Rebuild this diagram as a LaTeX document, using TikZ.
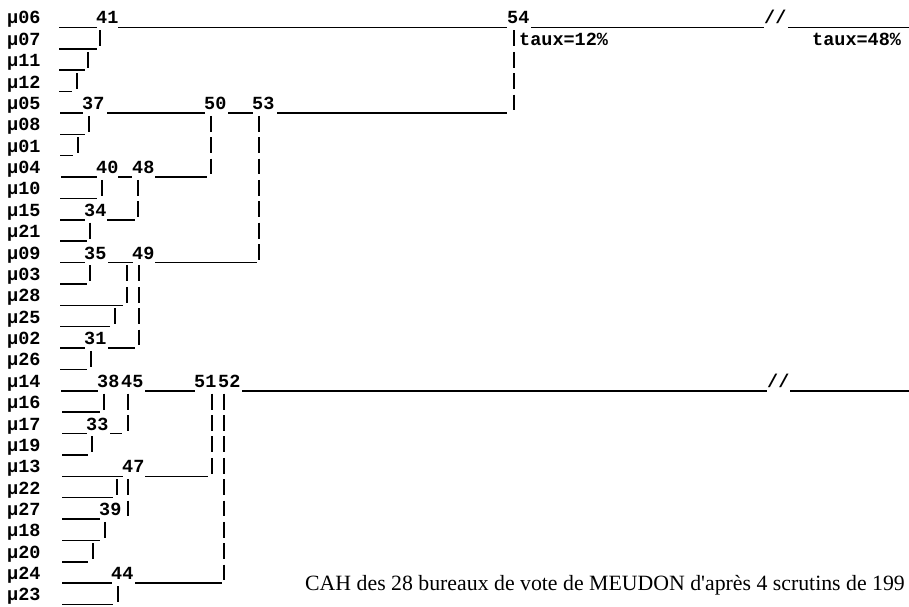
\documentclass[tikz,border=0pt]{standalone}
\usepackage{fontspec}
\setmainfont{Liberation Serif}[Ligatures=TeXOff]
\setmonofont{Liberation Mono}
\tikzset{
  leaflbl/.style={anchor=base west, inner sep=0pt, font=\ttfamily\bfseries\fontsize{18.5}{20}\selectfont},
  numlbl/.style={anchor=base west, inner sep=0pt, font=\ttfamily\bfseries\fontsize{18.5}{20}\selectfont},
  hline/.style={line width=1.5pt},
  vbar/.style={line width=1.5pt}
}

\begin{document}
\begin{tikzpicture}[x=1pt, y=-21.37pt]
  \useasboundingbox (0,-0.8423) rectangle (909,27.516);

  % Leaves
  \foreach \lbl [count=\r from 0] in {06,07,11,12,05,08,01,04,10,15,21,09,03,28,
                                      25,02,26,14,16,17,19,13,22,27,18,20,24,23}
    \node[leaflbl] (l\lbl) at (7,\r+0.28) {μ\lbl};

  % Horizontal rules (x from, x to, row)
  \foreach \xa/\xb/\r in {59/97/0, 118/507/0, 531/764/0, 788/909/0,
                          59/97/1, 59/85/2, 59/72/3,
                          60/83/4, 107/205/4, 228/253/4, 277/507/4,
                          60/85/5, 60/73/6,
                          61/97/7, 118/132/7, 155/207/7,
                          60/97/8, 60/85/9, 107/135/9, 60/87/10,
                          60/85/11, 108/133/11, 155/257/11,
                          60/87/12, 60/123/13, 60/110/14,
                          60/85/15, 108/135/15, 60/87/16,
                          61/98/17, 145/195/17, 242/767/17, 790/909/17,
                          62/100/18, 62/87/19, 110/122/19, 62/88/20,
                          62/123/21, 145/208/21, 62/113/22, 62/100/23,
                          62/100/24, 62/88/25, 62/112/26, 135/222/26,
                          62/113/27}
    \draw[hline] (\xa,\r+0.445) -- (\xb,\r+0.445);

  % Vertical bars (x, first row, last row)
  \foreach \x/\ra/\rb in {100/1/1, 88/2/2, 77/3/3, 514/1/4,
                          89/5/5, 78/6/6, 211/5/7, 259/5/11,
                          102/8/8, 138/8/9, 90/10/10,
                          90/12/12, 127/12/13, 139/12/15, 115/14/14, 91/16/16,
                          104/18/18, 128/18/19, 92/20/20, 212/18/21, 224/18/26,
                          117/22/22, 128/22/23, 105/24/24, 93/25/25, 118/27/27}
    \foreach \r in {\ra,...,\rb}
      \draw[vbar] (\x,\r-0.42) -- (\x,\r+0.32);

  % Cluster numbers
  \node[numlbl] (n41) at (96,0.28) {41};
  \node[numlbl] (n54) at (507,0.28) {54};
  \node[numlbl] (n37) at (82,4.28) {37};
  \node[numlbl] (n50) at (204,4.28) {50};
  \node[numlbl] (n53) at (252,4.28) {53};
  \node[numlbl] (n40) at (96,7.28) {40};
  \node[numlbl] (n48) at (132,7.28) {48};
  \node[numlbl] (n34) at (84,9.28) {34};
  \node[numlbl] (n35) at (84,11.28) {35};
  \node[numlbl] (n49) at (132,11.28) {49};
  \node[numlbl] (n31) at (84,15.28) {31};
  \node[numlbl] (n38) at (97,17.28) {38};
  \node[numlbl] (n45) at (121,17.28) {45};
  \node[numlbl] (n51) at (194,17.28) {51};
  \node[numlbl] (n52) at (218,17.28) {52};
  \node[numlbl] (n33) at (86,19.28) {33};
  \node[numlbl] (n47) at (122,21.28) {47};
  \node[numlbl] (n39) at (99,23.28) {39};
  \node[numlbl] (n44) at (111,26.28) {44};

  % Breaks and rates
  \node[numlbl] (cut1) at (764,0.28) {//};
  \node[numlbl] (cut2) at (767,17.28) {//};
  \node[numlbl] (taux1) at (519,1.28) {taux=12\%};
  \node[numlbl] (taux2) at (812,1.28) {taux=48\%};

  % Caption
  \node[anchor=base west, inner sep=0pt, font=\fontsize{21.8}{24}\selectfont] (cap)
    at (305,26.81) {CAH des 28 bureaux de vote de MEUDON d'après 4 scrutins de 199};
\end{tikzpicture}
\end{document}
